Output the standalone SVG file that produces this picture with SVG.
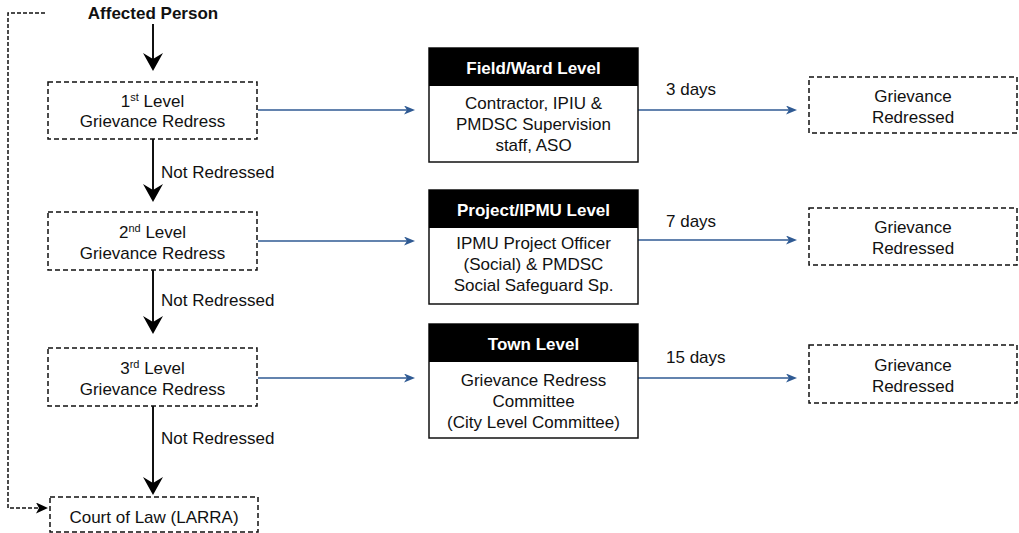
<svg xmlns="http://www.w3.org/2000/svg" width="1019" height="533" viewBox="0 0 1019 533">
<defs>
<style>
text{font-family:"Liberation Sans",Arial,sans-serif;font-size:17px;fill:#111111}
.c{text-anchor:middle}
.b{font-weight:bold}
.w{fill:#ffffff}
.sup{font-size:11px}
.dbox{fill:#ffffff;stroke:#111111;stroke-width:1.5;stroke-dasharray:5 3}
.sbox{fill:#ffffff;stroke:#111111;stroke-width:1.5}
.head{fill:#000000}
.blk{fill:none;stroke:#111111;stroke-width:2}
.blu{fill:none;stroke:#2f5a93;stroke-width:1.6}
.dsh{fill:none;stroke:#111111;stroke-width:1.5;stroke-dasharray:4 2}
</style>
<marker id="ab" viewBox="0 0 18 20" refX="6" refY="10" markerWidth="18" markerHeight="20" markerUnits="userSpaceOnUse" orient="auto">
<path d="M0,0 L18,10 L0,20 L6,10 Z" fill="#000000"/>
</marker>
<marker id="au" viewBox="0 0 11 9" refX="3" refY="4.5" markerWidth="11" markerHeight="9" markerUnits="userSpaceOnUse" orient="auto">
<path d="M0,0 L11,4.5 L0,9 L3,4.5 Z" fill="#2f5a93"/>
</marker>
<marker id="ad" viewBox="0 0 12 11" refX="3" refY="5.5" markerWidth="12" markerHeight="11" markerUnits="userSpaceOnUse" orient="auto">
<path d="M0,0 L12,5.5 L0,11 L3,5.5 Z" fill="#000000"/>
</marker>
</defs>
<rect width="1019" height="533" fill="#ffffff"/>

<g id="connectors">
<path class="blk" d="M153,24 V59" marker-end="url(#ab)"/>
<path class="blk" d="M153,139 V190" marker-end="url(#ab)"/>
<path class="blk" d="M153,270 V322" marker-end="url(#ab)"/>
<path class="blk" d="M153,406 V483" marker-end="url(#ab)"/>
<path class="blu" d="M258,110 H407" marker-end="url(#au)"/>
<path class="blu" d="M258,241 H407" marker-end="url(#au)"/>
<path class="blu" d="M258,378 H407" marker-end="url(#au)"/>
<path class="blu" d="M638,110 H789" marker-end="url(#au)"/>
<path class="blu" d="M638,240 H789" marker-end="url(#au)"/>
<path class="blu" d="M638,378 H789" marker-end="url(#au)"/>
<path class="dsh" d="M45,13 H8 V508 H39" marker-end="url(#ad)"/>
<text x="161" y="178">Not Redressed</text>
<text x="161" y="306">Not Redressed</text>
<text x="161" y="444">Not Redressed</text>
<text x="666" y="95">3 days</text>
<text x="666" y="227">7 days</text>
<text x="666" y="363">15 days</text>
</g>

<g id="affected-person">
<text class="c b" x="153" y="19">Affected Person</text>
</g>

<g id="level1">
<rect class="dbox" x="48" y="82" width="209" height="57"/>
<text class="c" x="152.5" y="107">1<tspan class="sup" dy="-6">st</tspan><tspan dy="6"> Level</tspan></text>
<text class="c" x="152.5" y="127">Grievance Redress</text>
</g>

<g id="level2">
<rect class="dbox" x="48" y="212" width="209" height="58"/>
<text class="c" x="152.5" y="238">2<tspan class="sup" dy="-6">nd</tspan><tspan dy="6"> Level</tspan></text>
<text class="c" x="152.5" y="259">Grievance Redress</text>
</g>

<g id="level3">
<rect class="dbox" x="48" y="348" width="209" height="58"/>
<text class="c" x="152.5" y="374">3<tspan class="sup" dy="-6">rd</tspan><tspan dy="6"> Level</tspan></text>
<text class="c" x="152.5" y="395">Grievance Redress</text>
</g>

<g id="court">
<rect class="dbox" x="50" y="497" width="208" height="35"/>
<text class="c" x="154" y="523">Court of Law (LARRA)</text>
</g>

<g id="field-ward">
<rect class="sbox" x="429" y="48" width="209" height="114"/>
<rect class="head" x="429" y="48" width="209" height="38"/>
<text class="c b w" x="533.5" y="74">Field/Ward Level</text>
<text class="c" x="533.5" y="109">Contractor, IPIU &amp;</text>
<text class="c" x="533.5" y="130">PMDSC Supervision</text>
<text class="c" x="533.5" y="151">staff, ASO</text>
</g>

<g id="project-ipmu">
<rect class="sbox" x="429" y="190" width="209" height="114"/>
<rect class="head" x="429" y="190" width="209" height="38"/>
<text class="c b w" x="533.5" y="216">Project/IPMU Level</text>
<text class="c" x="533.5" y="249">IPMU Project Officer</text>
<text class="c" x="533.5" y="270">(Social) &amp; PMDSC</text>
<text class="c" x="533.5" y="291">Social Safeguard Sp.</text>
</g>

<g id="town">
<rect class="sbox" x="429" y="324" width="209" height="114"/>
<rect class="head" x="429" y="324" width="209" height="38"/>
<text class="c b w" x="533.5" y="350">Town Level</text>
<text class="c" x="533.5" y="386">Grievance Redress</text>
<text class="c" x="533.5" y="407">Committee</text>
<text class="c" x="533.5" y="428">(City Level Committee)</text>
</g>

<g id="redressed1">
<rect class="dbox" x="809" y="77" width="208" height="56"/>
<text class="c" x="913" y="102">Grievance</text>
<text class="c" x="913" y="123">Redressed</text>
</g>

<g id="redressed2">
<rect class="dbox" x="809" y="208" width="208" height="57"/>
<text class="c" x="913" y="233">Grievance</text>
<text class="c" x="913" y="254">Redressed</text>
</g>

<g id="redressed3">
<rect class="dbox" x="809" y="345" width="208" height="58"/>
<text class="c" x="913" y="371">Grievance</text>
<text class="c" x="913" y="392">Redressed</text>
</g>
</svg>
